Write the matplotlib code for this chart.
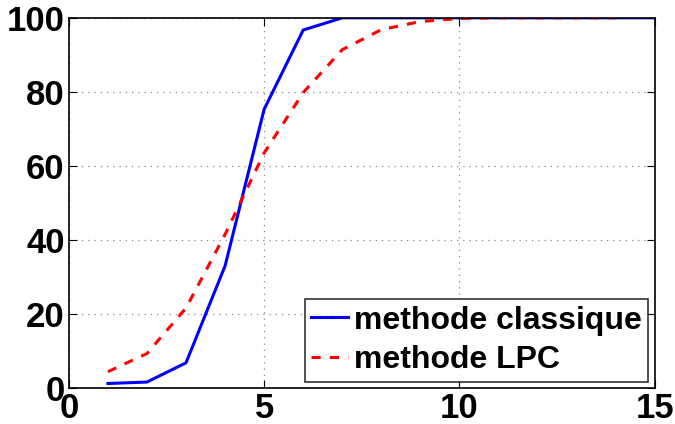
import matplotlib
matplotlib.use('Agg')
import matplotlib.pyplot as plt

x_classique = [1, 2, 3, 4, 5, 6, 7, 8, 9, 10, 11, 12, 13, 14, 15]
y_classique = [1.2, 1.6, 6.8, 33, 75.3, 96.7, 100, 100, 100, 100, 100, 100, 100, 100, 100]
x_lpc = [1, 2, 3, 4, 5, 6, 7, 8, 9, 10, 11, 12, 13, 14]
y_lpc = [4.4, 9.3, 21.6, 41.5, 63.5, 79.8, 91.4, 96.8, 99, 99.8, 100, 100, 100, 100]
labels = ['methode classique', 'methode LPC']

plt.rcParams['font.family'] = ['Liberation Sans', 'DejaVu Sans']
plt.rcParams['font.weight'] = 'bold'

fig = plt.figure(figsize=(6.75, 4.24), dpi=100)
ax = fig.add_axes([0.102, 0.085, 0.868, 0.873])

ax.plot(x_classique, y_classique, color='blue', lw=2.2, label=labels[0])
ax.plot(x_lpc, y_lpc, color='red', lw=2.2, ls=(0, (3, 3)), label=labels[1])

ax.set_xlim(0, 15)
ax.set_ylim(0, 100)
ax.set_xticks([0, 5, 10, 15])
ax.set_yticks([0, 20, 40, 60, 80, 100])
ax.grid(True, color='#888888', ls=(0, (1, 4)), lw=0.9)
ax.tick_params(direction='in', labelsize=25, length=6, top=True, right=True, pad=3)
for s in ax.spines.values():
    s.set_linewidth(1.2)
for lbl in ax.get_xticklabels() + ax.get_yticklabels():
    lbl.set_fontweight('bold')

leg = ax.legend(loc='lower right', fontsize=23, frameon=True, fancybox=False,
                borderpad=0.2, handlelength=1.15, handletextpad=0.2,
                labelspacing=0.3, borderaxespad=0.2)
leg.get_frame().set_edgecolor('black')
leg.get_frame().set_linewidth(1.2)
for t in leg.get_texts():
    t.set_fontweight('bold')

fig.savefig('out.png', dpi=100)
